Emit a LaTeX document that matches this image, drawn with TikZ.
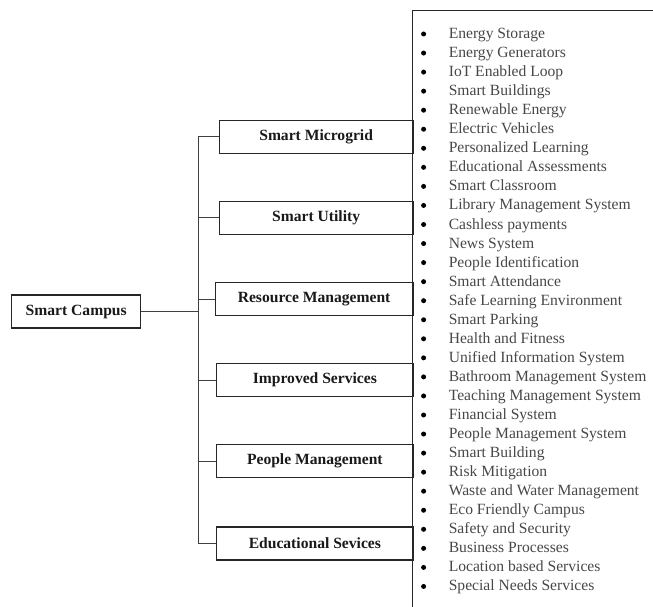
\documentclass[tikz,border=0pt]{standalone}
\usepackage{fontspec}
\setmainfont{Liberation Serif}
\usetikzlibrary{positioning}
\tikzset{
	every node/.style = {font=\fontsize{15.6}{19}\selectfont},
	topbox/.style = {draw=black!85, line width=1.4pt, rectangle, inner sep=0pt,
		minimum height=33pt, text=black!90, font=\fontsize{15.6}{19}\selectfont\bfseries},
	branchbox/.style = {topbox, line width=1.2pt},
	link/.style = {draw=black!75, line width=0.9pt},
	dot/.style = {circle, fill=black, inner sep=0pt, minimum size=5pt},
	item/.style = {anchor=base west, inner sep=0pt, text=black!72}
}
\begin{document}
\begin{tikzpicture}[x=1pt, y=-1pt]
		\useasboundingbox (0,0) rectangle (653,607);
		% root
		\node[topbox, minimum width=129pt] (campus) at (76.2,311.5) {Smart Campus};
		\coordinate (hub) at (198,311.5);
		\draw[link] (campus) -- (hub);
		% branches
		\foreach \x/\y/\t [count=\i] in {218.6/136.7/Smart Microgrid, 218.6/217.9/Smart Utility,
			214.5/299/Resource Management, 216/380.2/Improved Services,
			216/461.3/People Management, 216/543.5/Educational Sevices}
		{
			\node[branchbox, anchor=west, minimum width={(412.5-\x)*1pt}] (b\i) at (\x,\y) {\t};
			\coordinate (s\i) at (198,\y);
			\draw[link] (s\i) -- (b\i.west);
		}
		\draw[link] (s1) -- (s6);
		
		% list
		\draw[draw=black!85, line width=1.2pt] (653,10.5) -- (412.5,10.5) -- (412.5,607);
		\foreach \t [count=\i] in {Energy Storage, Energy Generators, IoT Enabled Loop,
			Smart Buildings, Renewable Energy, Electric Vehicles, Personalized Learning,
			Educational Assessments, Smart Classroom, Library Management System,
			Cashless payments, News System, People Identification, Smart Attendance,
			Safe Learning Environment, Smart Parking, Health and Fitness,
			Unified Information System, Bathroom Management System,
			Teaching Management System, Financial System, People Management System,
			Smart Building, Risk Mitigation, Waste and Water Management,
			Eco Friendly Campus, Safety and Security, Business Processes,
			Location based Services, Special Needs Services}
		{
			\node[dot] (d\i) at (423.6,{34+19.05*(\i-1)}) {};
			\node[item] (t\i) at (448.6,{38.5+19.05*(\i-1)}) {\t};
		}
	\end{tikzpicture}
\end{document}
